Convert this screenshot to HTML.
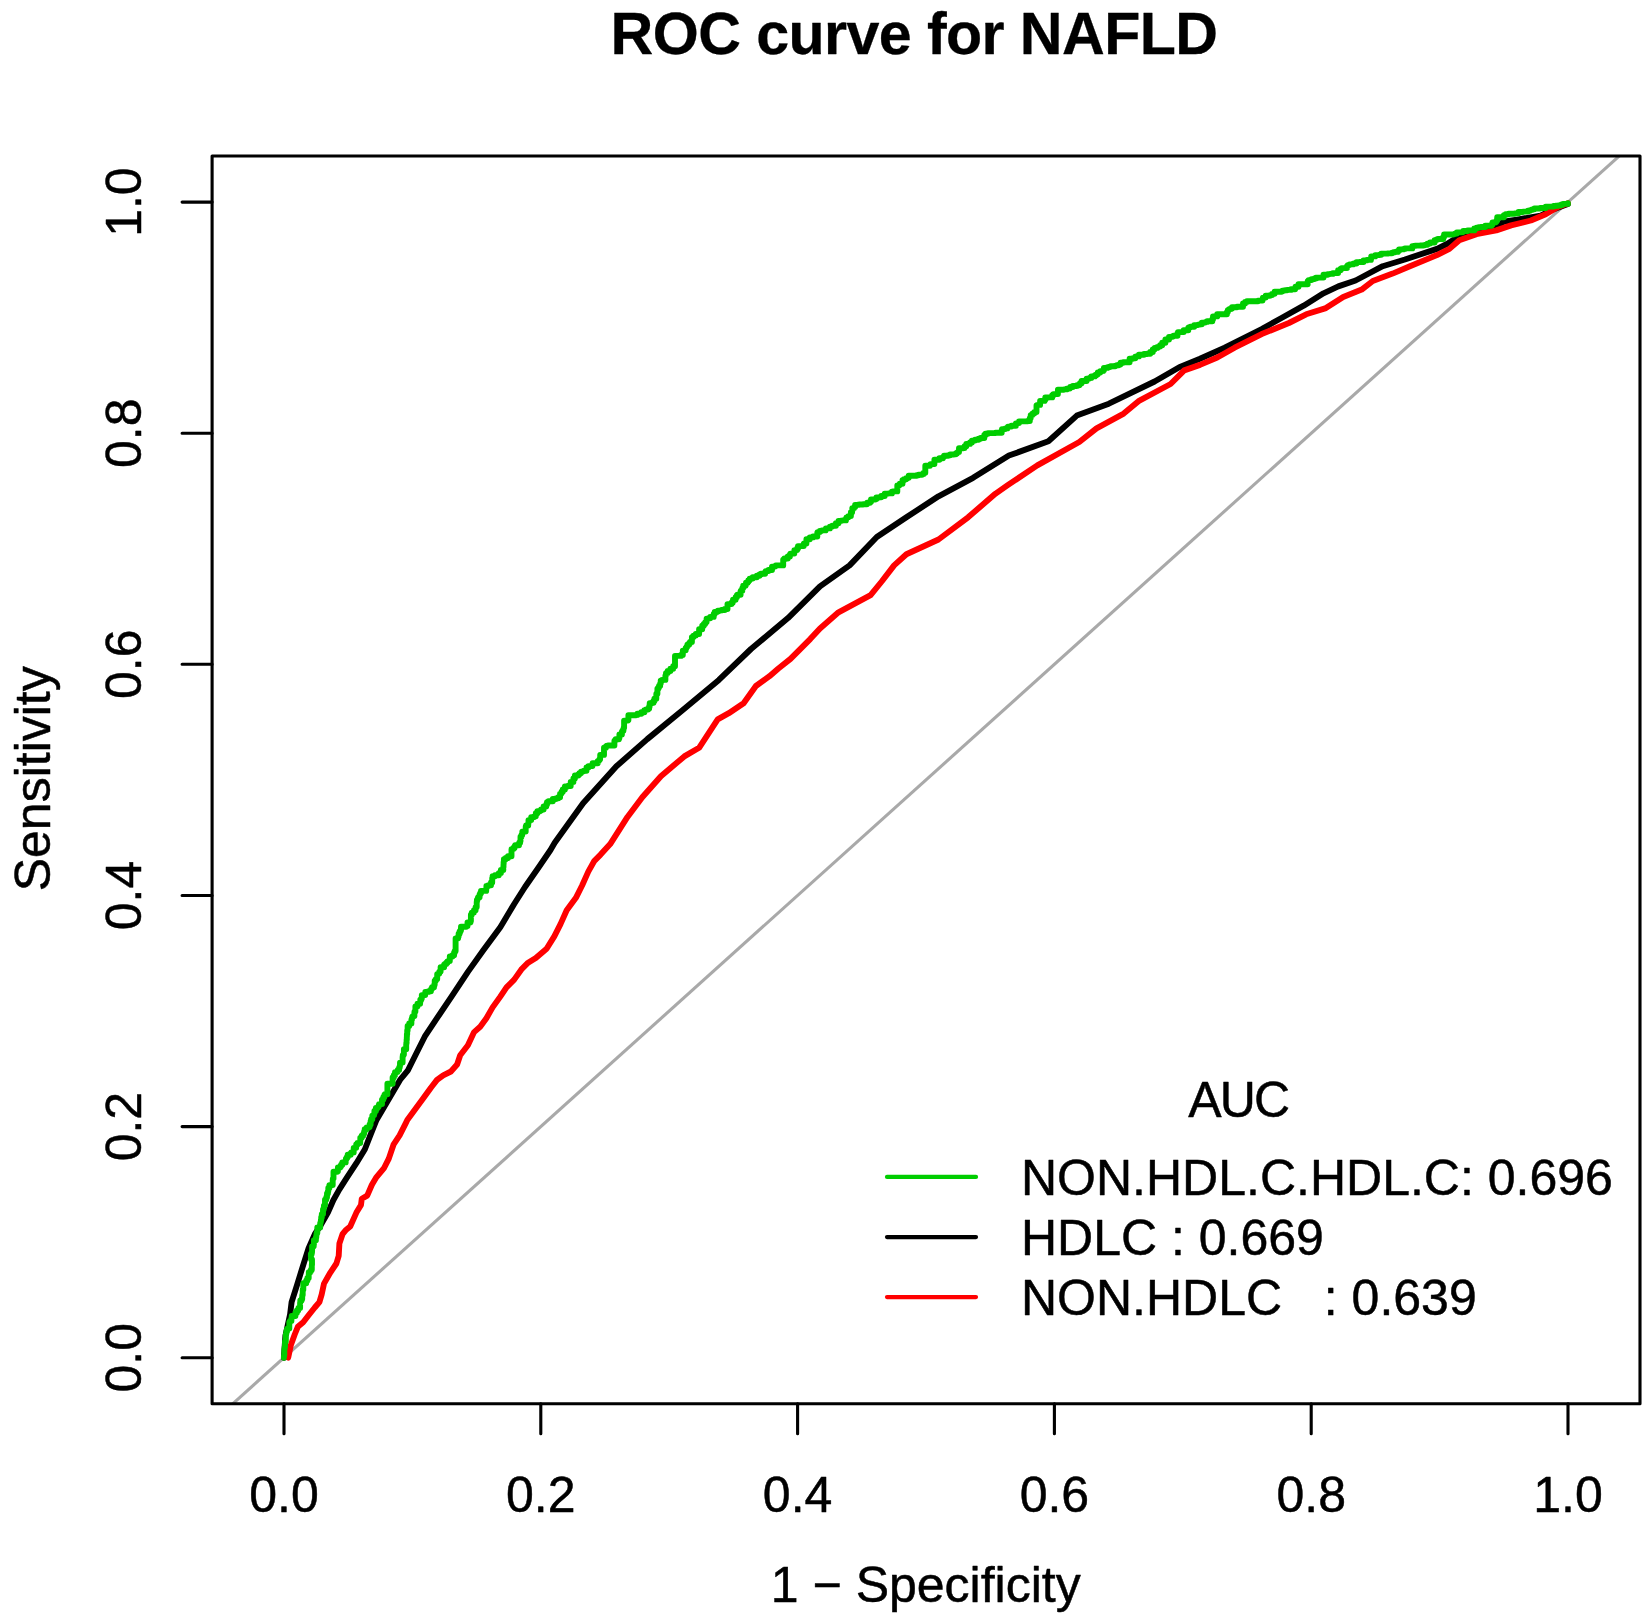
<!DOCTYPE html>
<html lang="en"><head><meta charset="utf-8"><title>ROC curve for NAFLD</title>
<style>html,body{margin:0;padding:0;background:#fff}svg{display:block}text{font-family:"Liberation Sans",Arial,Helvetica,sans-serif;fill:#000;stroke:#000;stroke-width:0.5px;stroke-linejoin:round}#title{stroke-width:0.3px}</style></head><body>
<svg width="1651" height="1620" viewBox="0 0 1651 1620">
<rect x="0" y="0" width="1651" height="1620" fill="#fff"/>
<defs><clipPath id="plotclip"><rect x="212.1" y="156.0" width="1427.9" height="1247.8"/></clipPath></defs>
<text id="title" x="914.0" y="54.3" font-size="59.2" font-weight="bold" text-anchor="middle" letter-spacing="-0.6">ROC curve for NAFLD</text>
<g clip-path="url(#plotclip)"><line x1="27.2" y1="1588.8" x2="1824.8" y2="-29.0" stroke="#A9A9A9" stroke-width="3.1"/></g>
<polyline fill="none" stroke="#000000" stroke-width="5.9" stroke-linejoin="round" stroke-linecap="round" points="283.9,1357.7 285.4,1336.0 290.1,1314.4 291.6,1302.1 297.0,1285.1 303.2,1265.1 308.6,1248.1 314.8,1234.2 320.9,1224.9 327.9,1212.6 333.3,1200.2 339.4,1189.4 347.2,1177.1 356.4,1163.2 364.9,1149.3 370.3,1135.4 376.5,1120.0 400.0,1079.9 407.7,1070.7 415.4,1055.2 424.7,1036.7 437.0,1018.2 452.5,995.1 467.9,971.9 483.3,950.3 500.3,927.2 514.2,904.0 525.0,887.0 538.9,867.0 550.5,850.0 554.7,842.8 583.1,803.3 616.4,766.3 647.3,739.1 681.9,710.7 718.9,679.9 751.0,649.0 788.0,618.1 820.0,586.4 849.6,565.4 876.8,537.0 906.4,517.3 938.5,496.3 973.1,477.8 1008.9,455.6 1048.4,441.2 1076.8,415.6 1108.9,403.7 1154.6,381.5 1179.3,367.2 1200.0,358.8 1224.7,347.7 1261.7,329.1 1281.5,318.0 1303.7,305.7 1323.5,293.3 1338.3,286.4 1355.6,280.5 1382.7,266.2 1404.9,259.5 1437.0,248.9 1446.9,244.0 1456.8,237.8 1471.6,232.8 1496.3,226.7 1503.7,221.7 1518.5,219.3 1540.7,215.6 1553.1,209.4 1567.9,204.0"/>
<polyline fill="none" stroke="#FF0000" stroke-width="5.9" stroke-linejoin="round" stroke-linecap="round" points="288.2,1357.7 290.8,1345.3 294.7,1334.5 297.8,1326.8 303.2,1322.2 308.6,1315.2 314.8,1307.5 319.4,1302.1 321.7,1294.4 324.0,1283.6 330.2,1272.8 336.4,1263.5 338.7,1255.8 339.4,1243.5 342.5,1234.2 345.6,1230.3 350.2,1226.5 356.4,1212.6 361.0,1204.9 361.8,1198.7 367.2,1195.6 371.9,1184.8 376.5,1177.1 384.2,1167.8 388.8,1158.6 393.5,1144.7 399.6,1135.4 405.8,1123.1 407.3,1120.0 423.1,1098.5 430.9,1087.7 437.0,1079.9 443.2,1075.3 450.9,1071.5 457.1,1064.5 460.2,1055.2 467.9,1045.2 474.1,1032.1 480.2,1026.7 486.4,1018.2 492.6,1007.4 500.3,996.6 506.5,987.3 514.2,979.6 521.9,968.8 528.1,962.7 535.8,958.0 546.6,948.8 554.3,936.4 560.5,924.1 566.7,910.2 575.9,897.8 582.1,885.5 588.3,871.6 594.4,860.8 600.6,854.6 610.2,844.1 627.5,816.9 642.3,797.2 660.9,776.2 684.3,756.4 699.1,747.8 717.7,719.4 728.8,713.2 743.6,703.3 755.9,686.0 769.5,676.2 778.1,668.8 790.5,658.9 810.2,639.1 820.0,628.4 838.5,612.3 870.6,595.1 881.7,581.5 894.1,565.4 906.4,554.3 938.5,539.5 968.1,517.3 995.3,493.8 1007.7,485.2 1037.3,465.4 1079.3,442.0 1096.5,428.4 1123.7,413.6 1138.5,401.2 1170.6,384.0 1184.2,370.4 1200.0,364.9 1217.3,357.5 1234.6,347.7 1261.7,334.1 1288.9,323.0 1306.2,314.3 1325.9,308.1 1343.2,297.0 1361.7,289.6 1372.8,281.0 1392.6,273.6 1409.9,266.2 1437.0,255.1 1449.4,248.9 1459.3,240.2 1476.5,234.1 1496.3,230.4 1511.1,225.4 1530.9,220.5 1545.7,214.3 1558.0,206.9 1567.9,203.2"/>
<polyline fill="none" stroke="#00CD00" stroke-width="5.9" stroke-linejoin="round" stroke-linecap="round" points="283.9,1357.7 283.9,1356.2 284.0,1356.2 284.1,1356.2 284.1,1354.9 284.3,1354.9 284.3,1352.3 284.3,1349.5 284.5,1349.5 284.5,1348.5 284.6,1348.5 284.7,1348.5 284.7,1346.9 284.7,1346.9 284.7,1346.9 285.0,1346.9 285.0,1344.1 285.0,1341.5 285.3,1341.5 285.3,1341.4 285.4,1341.4 285.8,1341.4 285.8,1338.0 285.8,1338.0 285.8,1337.4 285.8,1334.5 286.2,1334.5 286.2,1334.1 286.3,1334.1 286.3,1331.8 286.9,1331.8 286.9,1331.8 286.9,1331.8 286.9,1329.3 287.5,1329.3 287.5,1329.1 287.6,1329.1 287.6,1328.4 287.7,1328.4 289.3,1328.4 289.3,1322.2 290.0,1322.2 290.0,1321.0 291.4,1321.0 291.4,1318.7 291.4,1318.2 291.7,1318.2 291.7,1316.0 293.1,1316.0 295.4,1316.0 295.4,1312.7 296.9,1312.7 296.9,1310.5 296.9,1310.4 297.0,1310.4 298.2,1310.4 298.2,1308.8 298.5,1308.8 298.5,1308.3 298.5,1308.0 298.6,1308.0 300.1,1308.0 300.1,1303.6 300.1,1302.8 300.3,1302.8 300.3,1300.4 301.1,1300.4 301.6,1300.4 301.6,1299.0 302.2,1299.0 302.2,1295.6 302.3,1295.6 302.3,1295.0 302.7,1295.0 302.7,1292.8 302.7,1292.5 302.7,1292.5 302.7,1289.8 303.2,1289.8 303.3,1289.8 303.3,1289.5 303.3,1289.4 303.3,1289.4 303.3,1283.3 305.4,1283.3 306.2,1283.3 306.2,1280.7 306.3,1280.7 306.3,1280.5 307.4,1280.5 307.4,1278.0 308.7,1278.0 308.7,1275.0 308.7,1274.7 308.8,1274.7 308.8,1272.2 309.8,1272.2 310.3,1272.2 310.3,1271.2 310.9,1271.2 310.9,1269.7 310.9,1269.7 310.9,1269.7 311.8,1269.7 311.8,1264.8 312.0,1264.8 312.0,1263.5 312.0,1259.5 311.4,1259.5 311.4,1259.2 311.4,1259.2 311.1,1259.2 311.1,1257.3 310.9,1257.3 310.9,1255.8 310.9,1253.9 311.4,1253.9 311.7,1253.9 311.7,1252.5 312.0,1252.5 312.0,1251.3 312.1,1251.3 312.1,1251.1 312.1,1246.5 313.2,1246.5 313.3,1246.5 313.3,1246.2 313.7,1246.2 313.7,1244.6 313.9,1244.6 313.9,1244.0 313.9,1240.2 315.0,1240.2 315.9,1240.2 315.9,1237.2 316.3,1237.2 316.3,1235.7 316.3,1235.5 316.4,1235.5 316.4,1235.5 316.4,1235.5 316.4,1234.8 316.6,1234.8 316.6,1233.0 317.3,1233.0 317.3,1227.5 319.2,1227.5 320.2,1227.5 320.2,1224.9 320.2,1223.1 320.6,1223.1 320.6,1222.0 320.8,1222.0 320.8,1221.4 320.9,1221.4 320.9,1220.0 321.2,1220.0 321.2,1217.2 321.8,1217.2 321.8,1214.1 322.5,1214.1 323.0,1214.1 323.0,1212.2 323.0,1209.4 323.7,1209.4 323.7,1208.5 323.9,1208.5 323.9,1205.8 324.6,1205.8 324.8,1205.8 324.8,1204.9 325.0,1204.9 325.0,1203.7 325.0,1199.7 325.8,1199.7 325.9,1199.7 325.9,1199.5 326.3,1199.5 326.3,1197.2 327.0,1197.2 327.0,1195.1 327.0,1193.5 327.5,1193.5 327.9,1193.5 327.9,1192.4 327.9,1191.2 328.3,1191.2 328.3,1187.9 329.4,1187.9 329.4,1185.1 330.6,1185.1 332.7,1185.1 332.7,1179.9 332.8,1179.9 332.8,1179.8 332.8,1178.9 333.2,1178.9 333.2,1178.6 333.3,1178.6 333.3,1178.6 333.3,1178.5 333.5,1178.5 333.5,1178.3 333.5,1171.7 337.1,1171.7 337.3,1171.7 337.3,1171.2 337.9,1171.2 337.9,1170.2 337.9,1167.5 340.1,1167.5 340.2,1167.5 340.2,1167.3 340.2,1166.2 341.1,1166.2 341.1,1164.7 342.3,1164.7 342.3,1162.4 344.1,1162.4 345.7,1162.4 345.7,1160.1 345.9,1160.1 345.9,1159.9 345.9,1158.6 346.8,1158.6 346.8,1157.3 347.7,1157.3 347.7,1154.7 349.5,1154.7 350.7,1154.7 350.7,1153.2 351.3,1153.2 351.3,1152.4 353.7,1152.4 353.7,1149.3 353.7,1147.9 354.8,1147.9 354.9,1147.9 354.9,1147.8 356.2,1147.8 356.2,1146.2 356.2,1144.4 357.5,1144.4 357.5,1143.0 358.6,1143.0 360.2,1143.0 360.2,1140.9 360.2,1140.8 360.3,1140.8 360.3,1137.7 361.7,1137.7 361.7,1135.7 362.6,1135.7 363.2,1135.7 363.2,1134.3 363.5,1134.3 363.5,1133.7 364.1,1133.7 364.1,1132.3 364.1,1131.6 364.7,1131.6 364.7,1129.3 366.7,1129.3 366.7,1127.5 368.3,1127.5 368.8,1127.5 368.8,1126.9 369.6,1126.9 369.6,1124.5 370.6,1124.5 370.6,1121.5 370.6,1121.2 370.7,1121.2 371.1,1121.2 371.1,1120.0 371.1,1119.3 371.5,1119.3 372.3,1119.3 372.3,1117.8 372.3,1115.6 373.5,1115.6 373.5,1115.0 373.7,1115.0 374.1,1115.0 374.1,1114.4 374.1,1113.8 374.4,1113.8 374.4,1113.8 374.4,1113.8 374.4,1111.0 375.9,1111.0 375.9,1107.9 377.6,1107.9 377.6,1107.1 378.0,1107.1 378.1,1107.1 378.1,1107.0 378.4,1107.0 378.4,1106.3 378.8,1106.3 378.8,1105.6 378.8,1105.0 379.1,1105.0 379.1,1104.1 379.6,1104.1 382.0,1104.1 382.0,1099.6 383.3,1099.6 383.3,1097.3 384.3,1097.3 384.3,1095.3 384.9,1095.3 384.9,1094.2 387.4,1094.2 387.4,1089.5 387.4,1083.8 390.5,1083.8 392.6,1083.8 392.6,1079.8 392.6,1077.5 393.8,1077.5 393.8,1075.3 395.0,1075.3 395.0,1072.2 396.7,1072.2 396.7,1071.9 396.8,1071.9 397.4,1071.9 397.4,1070.9 397.4,1070.8 397.4,1070.8 397.8,1070.8 397.8,1070.0 399.1,1070.0 399.1,1067.6 399.7,1067.6 399.7,1066.6 399.7,1066.0 400.0,1066.0 400.0,1062.7 401.0,1062.7 401.0,1062.6 401.0,1062.6 401.0,1062.6 401.0,1062.5 402.6,1062.5 402.6,1056.9 402.8,1056.9 402.8,1056.4 402.8,1055.2 403.1,1055.2 403.1,1055.0 403.2,1055.0 403.3,1055.0 403.3,1054.4 403.3,1054.4 403.3,1054.4 403.9,1054.4 403.9,1052.6 403.9,1049.2 404.8,1049.2 406.2,1049.2 406.2,1044.4 406.3,1044.4 406.3,1043.7 406.3,1043.0 406.3,1043.0 406.6,1043.0 406.6,1039.8 406.8,1039.8 406.8,1037.1 406.9,1037.1 406.9,1035.2 406.9,1034.2 407.0,1034.2 407.2,1034.2 407.2,1032.2 407.2,1030.4 407.3,1030.4 407.6,1030.4 407.6,1026.6 407.6,1025.9 407.7,1025.9 409.2,1025.9 409.2,1023.5 411.4,1023.5 411.4,1019.7 411.9,1019.7 411.9,1018.9 411.9,1018.9 411.9,1018.9 411.9,1018.2 412.3,1018.2 412.3,1016.7 412.8,1016.7 413.1,1016.7 413.1,1015.9 414.4,1015.9 414.4,1012.1 414.5,1012.1 414.5,1011.6 415.4,1011.6 415.4,1009.0 415.4,1006.5 417.3,1006.5 417.3,1006.2 417.5,1006.2 417.5,1003.7 419.4,1003.7 420.1,1003.7 420.1,1002.8 420.1,1002.3 420.3,1002.3 420.3,999.6 421.4,999.6 421.4,998.4 421.8,998.4 421.8,995.1 423.1,995.1 425.2,995.1 425.2,993.5 425.2,993.5 425.3,993.5 425.3,991.9 427.6,991.9 428.5,991.9 428.5,991.2 430.9,991.2 430.9,989.5 431.3,989.5 431.3,989.2 431.3,988.7 432.1,988.7 432.1,987.3 434.0,987.3 434.0,985.9 434.2,985.9 434.3,985.9 434.3,984.4 434.7,984.4 434.7,981.2 434.7,980.8 434.9,980.8 435.8,980.8 435.8,979.1 437.2,979.1 437.2,976.2 437.2,974.1 438.3,974.1 438.6,974.1 438.6,973.5 439.3,973.5 439.3,971.6 440.6,971.6 440.6,968.0 440.6,967.3 440.9,967.3 444.1,967.3 444.1,964.6 444.7,964.6 444.7,964.1 444.9,964.1 444.9,963.9 446.3,963.9 446.3,962.7 447.4,962.7 447.4,961.6 447.4,961.4 447.6,961.4 447.9,961.4 447.9,961.1 449.8,961.1 449.8,959.2 449.8,956.5 452.5,956.5 452.5,955.2 453.0,955.2 454.1,955.2 454.1,952.5 454.8,952.5 454.8,950.9 455.6,950.9 455.6,948.8 455.6,948.8 455.6,947.1 455.6,943.1 455.6,943.1 455.6,943.1 455.6,942.6 455.6,938.5 457.6,938.5 457.7,938.5 457.7,938.3 458.1,938.3 458.1,937.4 458.1,936.4 458.6,936.4 458.6,933.7 459.6,933.7 459.6,931.4 460.5,931.4 460.5,930.2 461.0,930.2 461.0,926.7 465.9,926.7 466.2,926.7 466.2,926.6 466.2,926.4 466.4,926.4 466.4,925.9 466.8,925.9 467.5,925.9 467.5,925.2 467.5,922.5 470.2,922.5 470.2,922.5 470.2,922.3 470.5,922.3 470.5,921.0 470.9,921.0 470.9,919.1 470.9,914.8 471.8,914.8 471.8,912.7 472.8,912.7 472.9,912.7 472.9,912.6 473.9,912.6 473.9,910.6 474.0,910.6 474.0,910.3 475.6,910.3 475.6,907.1 476.7,907.1 476.7,902.5 476.7,902.0 476.9,902.0 476.9,899.9 477.4,899.9 477.4,899.1 477.6,899.1 477.9,899.1 477.9,897.8 478.2,897.8 478.2,897.3 479.6,897.3 479.6,894.4 480.2,894.4 480.2,893.2 481.0,893.2 481.0,892.6 481.0,890.9 483.3,890.9 486.2,890.9 486.2,888.7 486.2,888.6 486.4,888.6 486.4,888.6 486.4,888.6 486.4,885.9 488.4,885.9 488.4,885.3 488.8,885.3 491.0,885.3 491.0,882.4 492.2,882.4 492.2,879.3 492.2,878.2 492.6,878.2 492.6,876.2 493.4,876.2 493.4,876.2 493.4,876.2 494.9,876.2 494.9,875.3 498.8,875.3 498.8,873.1 500.9,873.1 500.9,870.3 500.9,870.0 501.2,870.0 503.3,870.0 503.3,867.1 503.4,867.1 503.4,867.0 503.5,867.0 503.5,865.7 503.5,864.6 503.6,864.6 503.6,862.2 503.9,862.2 503.9,859.3 504.2,859.3 505.7,859.3 505.7,858.0 505.8,858.0 505.8,858.0 508.0,858.0 508.0,856.2 511.5,856.2 511.5,850.8 511.5,849.2 512.6,849.2 512.7,849.2 512.7,849.1 513.4,849.1 513.4,848.1 513.4,848.1 513.4,848.0 514.5,848.0 514.5,846.4 515.2,846.4 515.2,845.3 519.0,845.3 519.0,843.4 519.0,843.3 519.2,843.3 519.2,842.8 520.1,842.8 520.1,841.1 520.5,841.1 520.5,836.8 521.5,836.8 521.5,834.9 521.9,834.9 522.2,834.9 522.2,833.6 522.3,833.6 522.3,833.1 522.3,831.7 522.6,831.7 522.8,831.7 522.8,831.5 525.7,831.5 525.7,827.3 525.7,826.8 526.1,826.8 526.1,825.5 527.0,825.5 528.2,825.5 528.2,823.6 528.2,823.2 528.5,823.2 528.5,820.1 530.7,820.1 531.2,820.1 531.2,819.4 531.2,817.1 533.5,817.1 534.4,817.1 534.4,816.2 534.4,816.2 534.4,816.2 535.8,816.2 535.8,814.8 535.8,813.2 537.4,813.2 537.4,811.3 539.3,811.3 540.0,811.3 540.0,810.6 541.1,810.6 541.1,809.5 543.6,809.5 543.6,807.0 543.6,806.4 544.2,806.4 546.2,806.4 546.2,804.4 547.0,804.4 547.0,803.6 547.0,802.1 548.5,802.1 548.5,801.2 550.4,801.2 552.8,801.2 552.8,800.0 552.8,799.0 554.7,799.0 556.0,799.0 556.0,798.4 556.3,798.4 556.3,798.3 558.4,798.3 558.4,797.2 560.1,797.2 560.1,795.1 560.1,795.1 560.1,795.1 560.1,793.6 561.4,793.6 561.4,793.3 561.6,793.3 561.6,791.8 562.8,791.8 562.8,789.4 564.9,789.4 564.9,786.5 567.2,786.5 567.2,786.5 567.2,786.5 567.6,786.5 567.6,786.0 570.7,786.0 570.7,782.3 570.7,781.9 571.1,781.9 573.4,781.9 573.4,779.9 573.4,778.5 574.9,778.5 574.9,775.5 578.3,775.5 578.3,774.5 579.4,774.5 579.4,773.3 580.8,773.3 580.8,773.0 581.1,773.0 581.1,771.6 582.7,771.6 583.1,771.6 583.1,771.2 583.8,771.2 583.8,770.7 586.5,770.7 586.5,768.8 586.5,767.5 588.4,767.5 588.4,766.1 590.5,766.1 592.4,766.1 592.4,764.8 592.6,764.8 592.6,764.6 592.6,763.3 594.5,763.3 597.7,763.3 597.7,761.1 599.0,761.1 599.0,760.2 599.0,760.1 599.1,760.1 599.1,759.9 599.2,759.9 599.5,759.9 599.5,759.3 600.1,759.3 600.1,758.3 600.1,758.1 600.2,758.1 600.2,754.9 601.9,754.9 604.0,754.9 604.0,751.1 604.0,747.7 605.9,747.7 605.9,746.5 606.5,746.5 606.8,746.5 606.8,746.3 606.8,745.7 607.6,745.7 608.0,745.7 608.0,745.5 614.4,745.5 614.4,741.0 615.0,741.0 615.0,740.6 615.0,740.1 615.7,740.1 615.7,739.2 617.0,739.2 618.9,739.2 618.9,737.9 619.4,737.9 619.4,736.8 619.4,734.5 620.6,734.5 621.9,734.5 621.9,731.9 621.9,731.9 621.9,731.8 622.4,731.8 622.4,730.8 623.4,730.8 623.4,728.9 623.7,728.9 623.7,728.2 623.7,727.7 624.0,727.7 624.1,727.7 624.1,727.4 624.1,720.6 627.5,720.6 628.0,720.6 628.0,720.3 628.0,720.0 628.4,720.0 628.4,715.3 635.9,715.3 636.0,715.3 636.0,715.3 636.0,714.9 636.6,714.9 637.4,714.9 637.4,714.4 637.4,713.8 638.7,713.8 641.3,713.8 641.3,712.5 641.3,712.2 641.8,712.2 644.4,712.2 644.4,710.9 644.4,710.1 646.1,710.1 646.1,709.5 647.3,709.5 648.1,709.5 648.1,708.4 649.2,708.4 649.2,706.8 649.2,706.2 649.7,706.2 649.7,703.2 651.8,703.2 651.8,702.7 652.2,702.7 653.5,702.7 653.5,700.9 654.4,700.9 654.4,698.7 656.3,698.7 656.3,694.0 656.4,694.0 656.4,693.8 657.4,693.8 657.4,691.5 657.4,688.6 658.5,688.6 658.5,687.2 659.1,687.2 659.1,685.8 659.7,685.8 660.2,685.8 660.2,684.4 660.2,683.4 660.7,683.4 660.7,680.8 661.7,680.8 662.0,680.8 662.0,680.2 662.0,679.9 662.1,679.9 665.4,679.9 665.4,675.8 665.4,675.6 665.6,675.6 665.7,675.6 665.7,675.5 665.7,675.1 666.0,675.1 666.0,673.1 667.7,673.1 667.7,671.0 669.3,671.0 670.4,671.0 670.4,669.7 670.4,668.8 671.1,668.8 673.2,668.8 673.2,666.3 675.0,666.3 675.0,663.6 675.0,655.9 680.3,655.9 681.0,655.9 681.0,654.9 682.8,654.9 682.8,652.4 682.8,650.8 683.9,650.8 683.9,650.4 684.1,650.4 684.3,650.4 684.3,650.2 685.7,650.2 685.7,648.0 685.7,648.0 685.8,648.0 685.8,647.9 685.8,647.9 686.4,647.9 686.4,647.1 686.7,647.1 686.7,646.6 686.8,646.6 686.8,646.5 687.4,646.5 687.4,645.6 687.4,644.8 688.0,644.8 688.0,644.7 688.1,644.7 689.1,644.7 689.1,643.3 690.0,643.3 690.0,642.0 690.0,641.9 690.1,641.9 691.9,641.9 691.9,639.4 691.9,637.1 693.5,637.1 693.5,635.6 694.6,635.6 695.8,635.6 695.8,634.0 699.1,634.0 699.1,629.3 702.2,629.3 702.2,625.8 703.8,625.8 703.8,624.0 705.1,624.0 705.1,622.5 705.7,622.5 705.7,621.9 706.6,621.9 706.6,620.9 706.6,618.6 708.7,618.6 708.7,618.2 709.0,618.2 709.0,618.2 709.0,618.2 710.2,618.2 710.2,616.9 713.7,616.9 713.7,614.4 713.7,613.9 714.4,613.9 714.7,613.9 714.7,613.7 714.7,612.0 717.1,612.0 717.1,611.4 717.9,611.4 717.9,610.7 718.9,610.7 718.9,610.7 718.9,610.7 719.9,610.7 719.9,610.4 721.5,610.4 721.5,610.0 724.8,610.0 724.8,609.0 727.5,609.0 727.5,608.3 727.5,604.1 730.5,604.1 731.5,604.1 731.5,602.7 732.7,602.7 732.7,601.2 732.9,601.2 732.9,600.9 733.0,600.9 733.0,600.8 733.0,599.7 733.7,599.7 735.6,599.7 735.6,597.2 736.9,597.2 736.9,595.3 737.4,595.3 737.4,594.7 740.6,594.7 740.6,591.1 740.9,591.1 740.9,590.7 742.3,590.7 742.3,589.1 742.3,588.1 743.2,588.1 743.2,585.8 745.1,585.8 745.5,585.8 745.5,585.4 745.5,584.8 746.0,584.8 746.0,582.7 747.7,582.7 747.7,581.8 748.4,581.8 748.4,580.2 749.7,580.2 749.7,578.6 751.0,578.6 751.0,578.5 751.2,578.5 752.7,578.5 752.7,577.8 752.7,577.3 753.6,577.3 756.8,577.3 756.8,575.7 759.5,575.7 759.5,574.4 760.9,574.4 760.9,573.7 765.1,573.7 765.1,572.1 765.7,572.1 765.7,571.9 765.7,571.9 765.7,571.9 765.7,571.1 767.9,571.1 768.5,571.1 768.5,570.8 768.5,570.0 770.7,570.0 772.0,570.0 772.0,569.0 772.0,566.6 775.0,566.6 775.1,566.6 775.1,566.5 775.1,566.0 775.8,566.0 775.8,565.4 776.5,565.4 783.2,565.4 783.2,560.1 783.2,559.6 783.8,559.6 784.4,559.6 784.4,559.1 784.4,558.5 785.2,558.5 787.8,558.5 787.8,556.4 789.9,556.4 789.9,554.8 789.9,554.4 790.4,554.4 790.4,553.6 791.4,553.6 794.3,553.6 794.3,551.2 794.4,551.2 794.4,551.2 794.4,550.1 795.7,550.1 797.1,550.1 797.1,549.1 797.1,548.5 797.8,548.5 797.8,548.4 798.0,548.4 798.0,546.1 800.9,546.1 803.7,546.1 803.7,543.9 803.8,543.9 803.8,543.7 804.1,543.7 804.1,543.5 806.4,543.5 806.4,541.7 806.4,539.3 809.5,539.3 809.8,539.3 809.8,539.0 809.8,537.4 811.8,537.4 813.0,537.4 813.0,536.5 817.3,536.5 817.3,533.0 817.3,532.8 817.6,532.8 817.6,532.1 818.5,532.1 819.8,532.1 819.8,531.1 819.8,530.9 820.0,530.9 821.3,530.9 821.3,530.6 821.9,530.6 821.9,530.4 825.6,530.4 825.6,529.5 825.6,529.4 825.9,529.4 825.9,528.4 829.9,528.4 829.9,526.8 831.7,526.8 831.7,526.4 832.2,526.4 832.3,526.4 832.3,526.3 832.3,525.7 833.1,525.7 835.9,525.7 835.9,523.3 838.5,523.3 838.5,521.0 838.9,521.0 838.9,520.9 840.9,520.9 840.9,520.6 842.5,520.6 842.5,520.4 845.9,520.4 845.9,519.8 845.9,518.8 846.5,518.8 846.5,517.4 847.5,517.4 847.5,517.3 847.6,517.3 848.4,517.3 848.4,516.1 850.9,516.1 850.9,512.3 852.1,512.3 852.1,510.8 852.3,510.8 852.3,510.6 852.3,508.1 854.3,508.1 854.3,507.2 855.1,507.2 855.1,504.9 857.0,504.9 857.8,504.9 857.8,504.8 859.2,504.8 859.2,504.6 859.2,504.5 860.0,504.5 863.1,504.5 863.1,504.2 866.9,504.2 866.9,503.7 866.9,503.6 867.2,503.6 867.2,502.8 868.6,502.8 870.0,502.8 870.0,502.1 870.0,501.7 871.0,501.7 871.0,499.5 875.3,499.5 875.3,498.9 876.4,498.9 876.4,497.5 879.3,497.5 879.3,497.3 879.7,497.3 881.2,497.3 881.2,496.7 881.2,496.0 882.6,496.0 884.7,496.0 884.7,495.1 884.7,493.6 887.9,493.6 888.5,493.6 888.5,493.4 891.9,493.4 891.9,491.8 892.8,491.8 892.8,491.4 897.3,491.4 897.3,486.9 897.3,485.5 898.7,485.5 899.1,485.5 899.1,485.1 899.6,485.1 899.6,484.6 899.8,484.6 899.8,484.4 899.8,483.8 900.4,483.8 902.5,483.8 902.5,481.7 902.5,480.2 904.0,480.2 904.0,479.3 905.8,479.3 906.2,479.3 906.2,479.1 906.2,478.3 907.7,478.3 907.7,477.8 908.7,477.8 908.7,475.8 912.6,475.8 916.7,475.8 916.7,475.2 918.6,475.2 918.6,474.9 918.6,474.9 918.6,474.9 918.6,474.7 919.9,474.7 922.0,474.7 922.0,474.4 922.0,474.1 923.7,474.1 923.7,472.7 924.8,472.7 925.3,472.7 925.3,472.0 925.3,465.8 929.9,465.8 930.0,465.8 930.0,465.7 930.0,465.4 930.2,465.4 930.2,465.1 930.5,465.1 930.5,464.2 931.1,464.2 931.2,464.2 931.2,464.1 934.4,464.1 934.4,462.2 934.4,459.8 938.6,459.8 938.6,459.8 938.6,459.7 939.4,459.7 939.4,459.3 939.4,458.3 941.0,458.3 942.9,458.3 942.9,457.2 943.5,457.2 943.5,456.8 943.5,456.7 944.1,456.7 944.1,455.8 948.0,455.8 948.2,455.8 948.2,455.7 948.2,455.3 950.2,455.3 950.2,454.5 953.9,454.5 953.9,454.3 954.6,454.3 955.8,454.3 955.8,453.4 956.9,453.4 956.9,452.6 957.7,452.6 957.7,452.1 959.0,452.1 959.0,451.1 959.0,448.2 963.1,448.2 963.2,448.2 963.2,448.1 964.6,448.1 964.6,446.9 964.6,446.3 965.3,446.3 966.3,446.3 966.3,445.5 966.3,443.9 968.1,443.9 970.0,443.9 970.0,442.4 971.9,442.4 971.9,440.7 971.9,440.6 972.4,440.6 975.1,440.6 975.1,439.8 975.1,439.7 975.6,439.7 978.5,439.7 978.5,438.8 980.5,438.8 980.5,438.3 980.5,438.0 980.9,438.0 984.3,438.0 984.3,435.7 984.3,434.9 985.5,434.9 985.5,433.8 987.1,433.8 987.9,433.8 987.9,433.3 988.1,433.3 988.1,433.3 988.1,433.1 991.2,433.1 995.6,433.1 995.6,432.9 995.6,432.8 996.3,432.8 996.3,432.8 996.5,432.8 1001.7,432.8 1001.7,430.2 1001.8,430.2 1001.8,430.2 1001.8,430.0 1002.0,430.0 1002.0,429.1 1003.9,429.1 1005.3,429.1 1005.3,428.4 1007.4,428.4 1007.4,427.4 1007.7,427.4 1007.7,427.2 1007.7,427.1 1008.0,427.1 1008.0,426.8 1008.8,426.8 1009.2,426.8 1009.2,426.6 1011.4,426.6 1011.4,425.8 1015.9,425.8 1015.9,424.1 1015.9,423.5 1017.5,423.5 1017.5,423.1 1019.0,423.1 1019.0,421.4 1025.7,421.4 1026.9,421.4 1026.9,421.1 1027.1,421.1 1027.1,421.1 1027.4,421.1 1027.4,421.0 1027.4,421.0 1027.4,421.0 1029.8,421.0 1029.8,418.1 1030.7,418.1 1030.7,417.0 1030.7,415.1 1032.4,415.1 1032.4,413.6 1033.6,413.6 1034.2,413.6 1034.2,412.1 1036.5,412.1 1036.5,406.9 1036.5,405.5 1037.1,405.5 1037.2,405.5 1037.2,405.2 1037.3,405.2 1037.3,404.9 1040.1,404.9 1040.1,403.1 1040.1,400.9 1043.3,400.9 1044.6,400.9 1044.6,400.1 1044.6,399.8 1045.0,399.8 1045.1,399.8 1045.1,399.7 1045.3,399.7 1045.3,399.5 1045.3,397.5 1048.4,397.5 1048.6,397.5 1048.6,397.4 1052.2,397.4 1052.2,395.6 1052.2,395.2 1052.8,395.2 1053.4,395.2 1053.4,395.0 1053.4,394.1 1055.0,394.1 1057.9,394.1 1057.9,392.7 1057.9,389.8 1063.7,389.8 1063.7,389.6 1064.0,389.6 1064.0,389.4 1064.4,389.4 1066.7,389.4 1066.7,388.8 1067.4,388.8 1067.4,388.6 1069.8,388.6 1069.8,387.9 1069.8,387.8 1070.2,387.8 1070.2,387.0 1072.8,387.0 1072.8,386.0 1076.6,386.0 1076.6,385.9 1077.0,385.9 1077.0,385.2 1079.3,385.2 1079.3,384.6 1080.0,384.6 1080.0,383.2 1081.6,383.2 1081.6,381.0 1084.2,381.0 1086.6,381.0 1086.6,379.9 1086.6,378.6 1089.5,378.6 1089.5,377.9 1090.8,377.9 1091.3,377.9 1091.3,377.7 1091.3,376.4 1094.1,376.4 1094.9,376.4 1094.9,376.0 1094.9,375.3 1096.5,375.3 1096.5,374.3 1097.8,374.3 1097.8,372.5 1100.3,372.5 1100.3,371.3 1101.8,371.3 1101.8,370.9 1102.4,370.9 1103.3,370.9 1103.3,370.3 1103.9,370.3 1103.9,369.8 1103.9,367.9 1106.4,367.9 1107.5,367.9 1107.5,367.6 1107.5,367.2 1109.2,367.2 1109.2,366.8 1110.7,366.8 1110.7,366.2 1113.0,366.2 1115.2,366.2 1115.2,365.6 1116.8,365.6 1116.8,365.2 1118.8,365.2 1118.8,364.7 1119.8,364.7 1119.8,364.2 1120.6,364.2 1120.6,363.9 1120.6,362.7 1123.2,362.7 1123.2,362.2 1124.2,362.2 1129.6,362.2 1129.6,359.7 1129.6,358.7 1131.8,358.7 1132.8,358.7 1132.8,358.3 1133.1,358.3 1133.1,358.2 1135.3,358.2 1135.3,357.1 1135.3,356.8 1136.0,356.8 1136.0,356.8 1136.0,356.8 1136.0,356.4 1137.5,356.4 1138.9,356.4 1138.9,356.0 1138.9,354.7 1144.0,354.7 1144.0,354.0 1146.3,354.0 1147.2,354.0 1147.2,353.8 1150.2,353.8 1150.2,352.0 1152.8,352.0 1152.8,350.3 1152.8,349.4 1154.3,349.4 1154.3,349.2 1154.7,349.2 1154.7,347.9 1156.7,347.9 1157.4,347.9 1157.4,347.4 1157.4,346.9 1158.3,346.9 1158.7,346.9 1158.7,346.6 1160.1,346.6 1160.1,345.3 1162.2,345.3 1162.2,343.5 1162.2,342.8 1163.1,342.8 1165.4,342.8 1165.4,340.8 1165.4,339.5 1166.9,339.5 1169.0,339.5 1169.0,338.3 1169.0,336.9 1171.6,336.9 1171.6,336.8 1171.8,336.8 1172.6,336.8 1172.6,336.3 1173.5,336.3 1173.5,335.8 1177.5,335.8 1177.5,333.6 1177.5,333.3 1178.0,333.3 1178.0,332.3 1179.8,332.3 1179.8,332.1 1180.2,332.1 1183.7,332.1 1183.7,330.3 1188.3,330.3 1188.3,327.8 1189.2,327.8 1189.2,327.3 1189.2,327.3 1189.2,327.3 1190.4,327.3 1190.4,326.7 1194.2,326.7 1194.2,325.7 1194.2,325.1 1196.6,325.1 1198.0,325.1 1198.0,324.7 1198.5,324.7 1198.5,324.6 1200.0,324.6 1200.0,324.2 1201.8,324.2 1201.8,323.5 1201.8,322.6 1203.9,322.6 1205.2,322.6 1205.2,322.1 1205.9,322.1 1205.9,321.9 1207.2,321.9 1207.2,321.3 1207.2,321.3 1207.2,321.3 1212.3,321.3 1212.3,319.3 1213.0,319.3 1213.0,318.7 1213.0,316.4 1215.9,316.4 1217.2,316.4 1217.2,315.3 1217.2,314.3 1218.5,314.3 1220.8,314.3 1220.8,314.3 1221.9,314.3 1221.9,314.3 1221.9,314.3 1224.7,314.3 1226.9,314.3 1226.9,312.1 1227.8,312.1 1227.8,311.2 1227.8,310.1 1228.9,310.1 1228.9,309.4 1229.6,309.4 1229.6,308.9 1231.2,308.9 1231.2,308.6 1232.0,308.6 1232.0,307.2 1236.2,307.2 1237.0,307.2 1237.0,306.9 1237.0,306.7 1237.4,306.7 1243.0,306.7 1243.0,303.4 1245.1,303.4 1245.1,302.2 1245.1,302.0 1245.4,302.0 1246.9,302.0 1246.9,301.2 1246.9,301.2 1246.9,301.2 1246.9,301.2 1247.7,301.2 1247.7,301.2 1248.8,301.2 1248.8,301.2 1253.3,301.2 1253.8,301.2 1253.8,301.2 1253.8,301.2 1257.3,301.2 1257.3,301.2 1258.0,301.2 1258.0,300.6 1259.2,300.6 1262.5,300.6 1262.5,299.1 1262.9,299.1 1262.9,299.0 1262.9,297.6 1265.7,297.6 1265.7,295.7 1269.9,295.7 1269.9,295.1 1271.2,295.1 1272.1,295.1 1272.1,294.7 1272.1,294.0 1273.7,294.0 1273.7,293.8 1274.1,293.8 1274.6,293.8 1274.6,293.7 1274.6,291.8 1280.6,291.8 1281.5,291.8 1281.5,291.5 1281.5,291.3 1282.4,291.3 1282.4,290.8 1283.9,290.8 1283.9,290.4 1285.2,290.4 1285.2,290.2 1286.4,290.2 1287.1,290.2 1287.1,290.0 1287.1,289.9 1287.8,289.9 1291.0,289.9 1291.0,289.2 1295.1,289.2 1295.1,288.4 1295.1,288.3 1295.2,288.3 1295.5,288.3 1295.5,288.2 1295.5,286.8 1298.1,286.8 1298.5,286.8 1298.5,286.5 1298.5,284.3 1302.6,284.3 1307.7,284.3 1307.7,281.5 1307.7,281.1 1308.4,281.1 1308.4,281.0 1308.6,281.0 1308.6,280.1 1311.3,280.1 1311.5,280.1 1311.5,280.0 1311.5,279.1 1314.1,279.1 1314.1,279.0 1314.4,279.0 1314.4,278.5 1315.9,278.5 1315.9,277.7 1318.3,277.7 1318.3,277.6 1318.8,277.6 1323.5,277.6 1323.5,276.0 1323.5,274.7 1327.7,274.7 1327.7,274.1 1330.0,274.1 1330.0,273.9 1330.4,273.9 1332.8,273.9 1332.8,273.2 1333.3,273.2 1333.3,273.1 1338.1,273.1 1338.1,270.3 1338.1,270.3 1338.2,270.3 1340.5,270.3 1340.5,268.9 1341.6,268.9 1341.6,268.3 1342.0,268.3 1342.0,268.1 1347.0,268.1 1347.0,266.1 1347.2,266.1 1347.2,266.0 1347.8,266.0 1347.8,265.8 1347.8,265.1 1349.5,265.1 1349.5,264.4 1351.2,264.4 1353.1,264.4 1353.1,263.7 1353.8,263.7 1353.8,263.5 1356.5,263.5 1356.5,262.8 1356.5,262.1 1359.7,262.1 1359.7,262.0 1359.9,262.0 1363.5,262.0 1363.5,261.1 1363.5,260.4 1366.3,260.4 1366.8,260.4 1366.8,260.3 1366.8,260.0 1367.9,260.0 1368.0,260.0 1368.0,259.9 1370.9,259.9 1370.9,258.5 1371.2,258.5 1371.2,258.3 1371.2,256.4 1375.2,256.4 1375.2,256.3 1375.3,256.3 1375.3,255.1 1377.8,255.1 1379.7,255.1 1379.7,254.8 1381.2,254.8 1381.2,254.5 1381.2,253.6 1386.8,253.6 1387.4,253.6 1387.4,253.5 1388.0,253.5 1388.0,253.4 1392.0,253.4 1392.0,252.7 1392.0,252.6 1392.4,252.6 1392.4,252.6 1392.6,252.6 1393.5,252.6 1393.5,252.3 1395.0,252.3 1395.0,251.9 1397.8,251.9 1397.8,251.0 1398.3,251.0 1398.3,250.9 1398.3,250.7 1399.1,250.7 1399.1,249.4 1403.3,249.4 1403.3,248.9 1404.9,248.9 1404.9,248.4 1406.4,248.4 1412.3,248.4 1412.3,246.7 1412.3,246.3 1413.6,246.3 1413.6,245.9 1414.7,245.9 1414.8,245.9 1414.8,245.9 1415.1,245.9 1415.1,245.9 1415.1,245.6 1418.5,245.6 1420.3,245.6 1420.3,245.5 1423.5,245.5 1423.5,245.3 1423.5,245.2 1424.7,245.2 1424.7,245.1 1424.8,245.1 1425.6,245.1 1425.6,244.8 1427.4,244.8 1427.4,243.8 1427.8,243.8 1427.8,243.6 1430.1,243.6 1430.1,242.5 1434.6,242.5 1434.6,240.2 1435.5,240.2 1435.5,239.9 1436.6,239.9 1436.6,239.5 1436.6,239.4 1436.9,239.4 1437.8,239.4 1437.8,239.0 1443.2,239.0 1443.2,237.0 1443.2,237.0 1443.2,237.0 1444.0,237.0 1444.0,236.8 1444.0,236.8 1444.1,236.8 1444.1,236.8 1444.1,236.8 1444.1,234.5 1453.2,234.5 1453.2,234.1 1454.8,234.1 1454.8,233.6 1456.8,233.6 1456.8,232.4 1461.0,232.4 1461.0,232.3 1461.4,232.3 1461.4,232.2 1461.5,232.2 1461.8,232.2 1461.8,232.2 1462.6,232.2 1462.6,231.9 1462.6,231.7 1463.3,231.7 1463.3,231.0 1465.7,231.0 1467.6,231.0 1467.6,230.5 1467.6,230.4 1467.7,230.4 1474.3,230.4 1474.3,228.5 1476.5,228.5 1476.5,227.9 1476.5,227.8 1477.1,227.8 1478.7,227.8 1478.7,227.5 1478.7,227.5 1478.7,227.5 1478.7,227.2 1480.8,227.2 1480.8,227.0 1481.6,227.0 1485.3,227.0 1485.3,226.4 1485.3,225.8 1488.9,225.8 1491.4,225.8 1491.4,225.4 1491.4,224.6 1492.5,224.6 1492.5,222.4 1495.4,222.4 1495.4,221.7 1496.3,221.7 1496.3,221.6 1496.4,221.6 1496.4,220.6 1497.2,220.6 1497.2,217.3 1500.0,217.3 1503.9,217.3 1503.9,215.7 1503.9,215.1 1505.3,215.1 1505.3,215.0 1505.7,215.0 1505.7,214.2 1507.5,214.2 1508.6,214.2 1508.6,213.8 1508.6,213.7 1509.7,213.7 1514.6,213.7 1514.6,213.4 1517.3,213.4 1517.3,213.2 1517.6,213.2 1517.6,213.2 1518.5,213.2 1518.5,213.1 1518.5,212.0 1522.9,212.0 1522.9,211.9 1523.1,211.9 1523.1,211.8 1523.4,211.8 1523.4,211.6 1524.2,211.6 1527.9,211.6 1527.9,210.7 1530.0,210.7 1530.0,210.1 1530.9,210.1 1530.9,209.9 1532.1,209.9 1532.1,209.7 1532.1,209.5 1532.9,209.5 1533.1,209.5 1533.1,209.5 1533.1,209.2 1534.4,209.2 1534.4,208.5 1537.7,208.5 1540.0,208.5 1540.0,208.1 1540.2,208.1 1540.2,208.0 1545.7,208.0 1545.7,206.9 1545.7,206.8 1546.7,206.8 1546.7,206.6 1548.5,206.6 1553.6,206.6 1553.6,206.0 1555.8,206.0 1555.8,205.7 1556.4,205.7 1556.4,205.7 1558.2,205.7 1558.2,205.5 1560.3,205.5 1560.3,205.2 1560.5,205.2 1560.5,205.2 1561.4,205.2 1561.4,205.0 1561.4,204.5 1563.0,204.5 1563.0,203.9 1565.4,203.9 1567.9,203.9 1567.9,203.2"/>
<rect x="212.1" y="156.0" width="1427.9" height="1247.8" fill="none" stroke="#000" stroke-width="3.1" stroke-linejoin="round"/>
<path d="M284.0 1403.8V1433.8 M540.8 1403.8V1433.8 M797.6 1403.8V1433.8 M1054.4 1403.8V1433.8 M1311.2 1403.8V1433.8 M1568.0 1403.8V1433.8 M212.1 1357.7H182.1 M212.1 1126.6H182.1 M212.1 895.5H182.1 M212.1 664.3H182.1 M212.1 433.2H182.1 M212.1 202.1H182.1" stroke="#000" stroke-width="3.1" fill="none" stroke-linecap="round"/>
<text x="284.0" y="1511.5" font-size="50.0" text-anchor="middle">0.0</text>
<text x="540.8" y="1511.5" font-size="50.0" text-anchor="middle">0.2</text>
<text x="797.6" y="1511.5" font-size="50.0" text-anchor="middle">0.4</text>
<text x="1054.4" y="1511.5" font-size="50.0" text-anchor="middle">0.6</text>
<text x="1311.2" y="1511.5" font-size="50.0" text-anchor="middle">0.8</text>
<text x="1568.0" y="1511.5" font-size="50.0" text-anchor="middle">1.0</text>
<text transform="translate(140.5 1357.7) rotate(-90)" font-size="50.0" text-anchor="middle">0.0</text>
<text transform="translate(140.5 1126.6) rotate(-90)" font-size="50.0" text-anchor="middle">0.2</text>
<text transform="translate(140.5 895.5) rotate(-90)" font-size="50.0" text-anchor="middle">0.4</text>
<text transform="translate(140.5 664.3) rotate(-90)" font-size="50.0" text-anchor="middle">0.6</text>
<text transform="translate(140.5 433.2) rotate(-90)" font-size="50.0" text-anchor="middle">0.8</text>
<text transform="translate(140.5 202.1) rotate(-90)" font-size="50.0" text-anchor="middle">1.0</text>
<text x="925.8" y="1602.2" font-size="50.0" text-anchor="middle">1 − Specificity</text>
<text transform="translate(50.3 778.8) rotate(-90)" font-size="50.0" text-anchor="middle">Sensitivity</text>
<text x="1238.2" y="1117.4" font-size="50.0" text-anchor="middle" letter-spacing="-1.9">AUC</text>
<line x1="887" y1="1176.9" x2="976" y2="1176.9" stroke="#00CD00" stroke-width="4.2" stroke-linecap="round"/>
<text x="1021" y="1195.0" font-size="50.0" letter-spacing="0" xml:space="preserve" style="white-space:pre">NON.HDL.C.HDL.C: 0.696</text>
<line x1="887" y1="1237.1" x2="976" y2="1237.1" stroke="#000000" stroke-width="4.2" stroke-linecap="round"/>
<text x="1021" y="1255.0" font-size="50.0" letter-spacing="0" xml:space="preserve" style="white-space:pre">HDLC : 0.669</text>
<line x1="887" y1="1297.1" x2="976" y2="1297.1" stroke="#FF0000" stroke-width="4.2" stroke-linecap="round"/>
<text x="1021" y="1315.0" font-size="50.0" letter-spacing="0" xml:space="preserve" style="white-space:pre">NON.HDLC   : 0.639</text>
</svg></body></html>
